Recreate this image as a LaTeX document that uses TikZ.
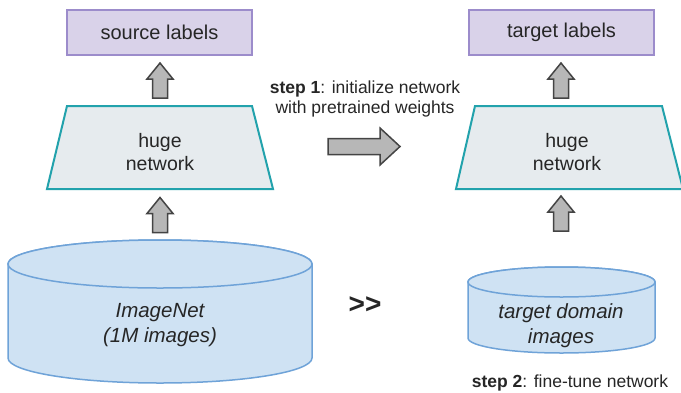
\documentclass[tikz,border=0pt]{standalone}
\usepackage{fontspec}
\setmainfont{Liberation Sans}
\definecolor{labfill}{HTML}{D9D2E9}
\definecolor{labline}{HTML}{9C8CCB}
\definecolor{netfill}{HTML}{E6EBEE}
\definecolor{netline}{HTML}{22A2AC}
\definecolor{dbfill}{HTML}{CFE2F3}
\definecolor{dbline}{HTML}{6FA3D8}
\definecolor{arrfill}{HTML}{B7B7B7}
\definecolor{arrline}{HTML}{444444}
\definecolor{ink}{HTML}{262626}
\tikzset{
  labelbox/.style={draw=labline, fill=labfill, line width=1.5pt,
    minimum width=185pt, minimum height=45pt, inner sep=0pt,
    text=ink, font=\fontsize{20}{24}\selectfont},
  netshape/.style={draw=netline, fill=netfill, line width=2pt, line join=miter},
  nettext/.style={text=ink, align=center, inner sep=0pt,
    font=\fontsize{19.5}{23}\selectfont},
  dbshape/.style={draw=dbline, fill=dbfill, line width=1.5pt},
  dbtext/.style={text=ink, align=center, inner sep=0pt,
    font=\fontsize{20.5}{24.5}\selectfont\itshape},
  arrowshape/.style={draw=arrline, fill=arrfill, line width=1.5pt, line join=miter},
  % block arrow pointing up, 35pt long, centred on its position
  uparrow/.pic={
    \path[arrowshape] (0,-17.5) -- (13,-1.5) -- (7.5,-1.5) -- (7.5,17.5)
      -- (-7.5,17.5) -- (-7.5,-1.5) -- (-13,-1.5) -- cycle;
  },
  % wide block arrow pointing right, 72pt long
  rightarrow/.pic={
    \path[arrowshape] (36,0) -- (16,-18.5) -- (16,-8) -- (-36,-8)
      -- (-36,8) -- (16,8) -- (16,18.5) -- cycle;
  },
  note/.style={text=ink, align=center, inner sep=0pt,
    font=\fontsize{17.5}{19.5}\selectfont},
}
\begin{document}
\begin{tikzpicture}[x=1pt, y=-1pt]
  \useasboundingbox (0,0) rectangle (681,392);
  \fill[white] (0,0) rectangle (681,392);

  % ---- left column: pretraining ----
  \node[labelbox] (src) at (159.5,32.5) {source labels};
  \pic (up1) at (160,80.5) {uparrow};
  \path[netshape] (67,106) -- (252,106) -- (273,189) -- (47,189) -- cycle;
  \node[nettext] (netA) at (160,152) {huge\\network};
  \pic (up2) at (160,215) {uparrow};

  % ImageNet cylinder
  \path[dbshape] (8,264) -- (8,358)
    arc[start angle=180, end angle=0, x radius=152, y radius=25]
    -- (312,264)
    arc[start angle=0, end angle=-180, x radius=152, y radius=24] -- cycle;
  \draw[dbshape] (160,264) ellipse[x radius=152, y radius=24];
  \node[dbtext] (imnet) at (160,325) {ImageNet\\(1M images)};

  % ---- transfer ----
  \node[note] (step1) at (365,99) {\textbf{step 1}: initialize network\\with pretrained weights};
  \pic (xfer) at (364,146.5) {rightarrow};
  \node[text=ink, inner sep=0pt, font=\fontsize{28}{32}\selectfont\bfseries] (gg) at (365,305) {{>}{>}};

  % ---- right column: fine-tuning ----
  \node[labelbox] (tgt) at (561.5,32.5) {target labels};
  \pic (up3) at (561,80.5) {uparrow};
  \path[netshape] (475,106) -- (662,106) -- (683,189) -- (456,189) -- cycle;
  \node[nettext] (netB) at (567,152) {huge\\network};
  \pic (up4) at (561,213.5) {uparrow};

  % target domain cylinder
  \path[dbshape] (468,282) -- (468,338)
    arc[start angle=180, end angle=0, x radius=93.5, y radius=15]
    -- (655,282)
    arc[start angle=0, end angle=-180, x radius=93.5, y radius=15] -- cycle;
  \draw[dbshape] (561.5,282) ellipse[x radius=93.5, y radius=15];
  \node[dbtext] (tdom) at (561,325.5) {target domain\\images};

  \node[note] (step2) at (570,383) {\textbf{step 2}: fine-tune network};
\end{tikzpicture}
\end{document}
